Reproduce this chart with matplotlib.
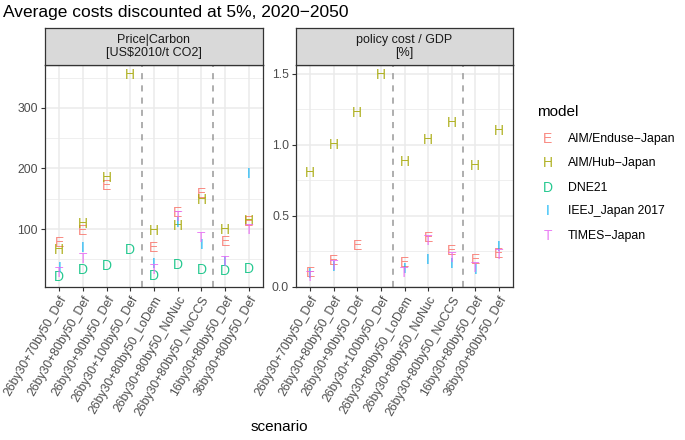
import numpy as np
import matplotlib
matplotlib.use("Agg")
import matplotlib.pyplot as plt

plt.rcParams['font.family'] = ['Liberation Sans', 'DejaVu Sans']

scenarios = ["26by30+70by50_Def", "26by30+80by50_Def", "26by30+90by50_Def",
             "26by30+100by50_Def", "26by30+80by50_LoDem", "26by30+80by50_NoNuc",
             "26by30+80by50_NoCCS", "16by30+80by50_Def", "36by30+80by50_Def"]

models = ["AIM/Enduse-Japan", "AIM/Hub-Japan", "DNE21", "IEEJ_Japan 2017", "TIMES-Japan"]
letters = ["E", "H", "D", "I", "T"]
colors = ["#F8766D", "#A3A500", "#00BF7D", "#00B0F6", "#E76BF3"]

nan = np.nan
# Price|Carbon [US$2010/t CO2]
price_E = [77, 96, 171, nan, 69, 126, 157, 79, 112]
price_H = [66, 108, 185, 354, 97, 105, 148, 98, 113]
price_D = [21, 33, 39, 65, 22, 40, 33, 30, 34]
price_I = [35, 68, nan, nan, 43, 110, 74, 46, 190]
price_T = [27, 51, nan, nan, 33, 120, 86, 46, 98]

# policy cost / GDP [%]
cost_E = [0.10, 0.18, 0.29, nan, 0.17, 0.345, 0.25, 0.19, 0.23]
cost_H = [0.80, 1.00, 1.22, 1.49, 0.88, 1.035, 1.155, 0.85, 1.10]
cost_D = [nan] * 9
cost_I = [0.09, 0.14, nan, nan, 0.125, 0.19, 0.16, 0.12, 0.28]
cost_T = [0.07, 0.15, nan, nan, 0.10, 0.32, 0.20, 0.135, 0.225]

panels = [
    ("Price|Carbon\n[US$2010/t CO2]", [price_E, price_H, price_D, price_I, price_T],
     [100, 200, 300], ["100", "200", "300"], [50, 150, 250, 350]),
    ("policy cost / GDP\n[%]", [cost_E, cost_H, cost_D, cost_I, cost_T],
     [0.0, 0.5, 1.0, 1.5], ["0.0", "0.5", "1.0", "1.5"], [0.25, 0.75, 1.25]),
]
dividers = [4.5, 7.5]

W, H = 685, 440
fig = plt.figure(figsize=(W / 100, H / 100), dpi=100)

def fx(px):
    return px / W

def fy(py):
    return 1 - py / H

panel_x = [(45, 263), (296, 513)]
ptop, pbot = 65, 287
stop = 28

xpos = np.arange(1, len(scenarios) + 1)
grid_c = "#EBEBEB"
border_c = "#333333"

for (x0, x1), (strip_txt, series, yt, ytl, yminor) in zip(panel_x, panels):
    ax = fig.add_axes([fx(x0), fy(pbot), fx(x1 - x0), (pbot - ptop) / H])
    allv = np.concatenate([np.array(s, dtype=float) for s in series])
    allv = allv[~np.isnan(allv)]
    lo, hi = allv.min(), allv.max()
    pad = 0.05 * (hi - lo)
    ax.set_ylim(lo - pad, hi + pad)
    ax.set_xlim(0.4, len(scenarios) + 0.6)
    ax.set_facecolor("white")
    for v in yminor:
        ax.axhline(v, color=grid_c, lw=0.55, zorder=0)
    for v in yt:
        ax.axhline(v, color=grid_c, lw=1.1, zorder=0)
    for v in xpos:
        ax.axvline(v, color=grid_c, lw=1.1, zorder=0)
    for d in dividers:
        ax.axvline(d, color="#999999", lw=1.1, ls=(0, (4, 4)), zorder=1)
    for s, let, c in zip(series, letters, colors):
        for xi, v in zip(xpos, s):
            if not np.isnan(v):
                ax.text(xi, v, let, color=c, alpha=0.85, fontsize=10,
                        ha="center", va="center", zorder=3)
    ax.set_yticks(yt)
    ax.set_yticklabels(ytl)
    ax.set_xticks(xpos)
    ax.set_xticklabels(scenarios, rotation=60, ha="right", va="top",
                       rotation_mode="anchor")
    ax.tick_params(axis="both", colors=border_c, labelcolor="#4D4D4D",
                   labelsize=8.8, length=3, width=0.8, pad=2)
    for sp in ax.spines.values():
        sp.set_color(border_c)
        sp.set_linewidth(0.9)
    # strip
    sax = fig.add_axes([fx(x0), fy(ptop), fx(x1 - x0), (ptop - stop) / H])
    sax.set_xticks([])
    sax.set_yticks([])
    sax.set_facecolor("#D9D9D9")
    for sp in sax.spines.values():
        sp.set_color(border_c)
        sp.set_linewidth(0.9)
    sax.text(0.5, 0.5, strip_txt, ha="center", va="center", fontsize=9,
             color="#1A1A1A", linespacing=1.1, transform=sax.transAxes)

fig.text(fx(3), fy(12), "Average costs discounted at 5%, 2020\u22122050",
         fontsize=12.5, ha="left", va="center", color="black")
fig.text(fx(279), fy(427), "scenario", fontsize=11, ha="center", va="center")

# legend
fig.text(fx(537), fy(112), "model", fontsize=11, ha="left", va="center")
leg_y = [139, 163, 188, 211, 236]
for let, c, m, yy in zip(letters, colors, models, leg_y):
    fig.text(fx(548), fy(yy), let, color=c, alpha=0.85, fontsize=10,
             ha="center", va="center")
    fig.text(fx(568), fy(yy), m.replace("-", "\u2212"), fontsize=8.8,
             ha="left", va="center", color="black")

fig.savefig("out.png", dpi=100)
